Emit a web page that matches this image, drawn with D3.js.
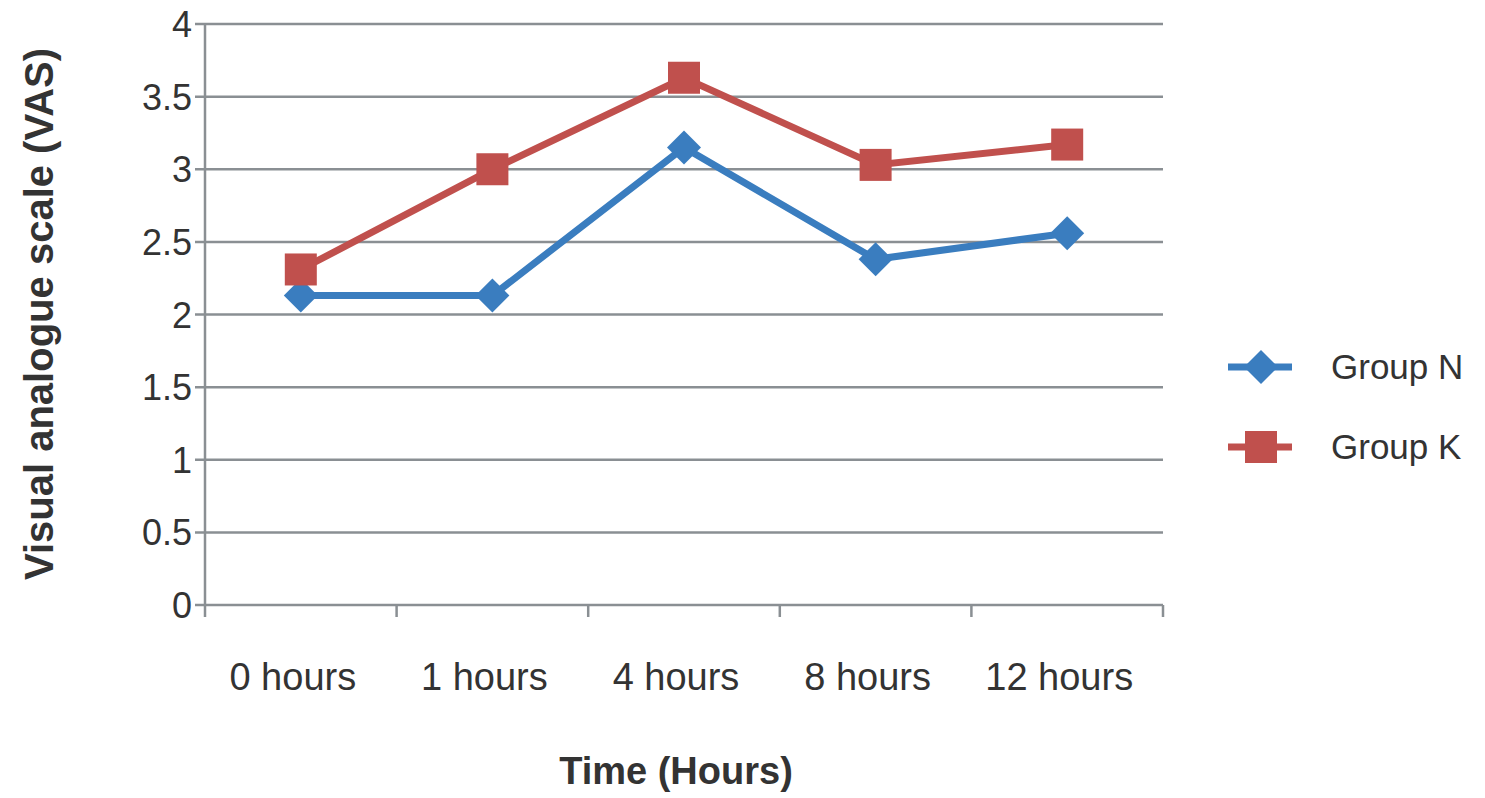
<!DOCTYPE html>
<html><head><meta charset="utf-8">
<script src="https://cdn.jsdelivr.net/npm/d3@7"></script>
<style>body{margin:0;background:#fff}text{font-family:"Liberation Sans",Arial,sans-serif}</style>
</head><body><svg id="c" width="1485" height="798"></svg>
<script>
const categories=["0 hours","1 hours","4 hours","8 hours","12 hours"];
const groupN=[2.13,2.13,3.15,2.38,2.56];
const groupK=[2.31,3.0,3.63,3.03,3.17];
const yTicks=[0,0.5,1,1.5,2,2.5,3,3.5,4];
const series=[{name:"Group N",values:groupN,color:"#3a7dbf",shape:"diamond"},{name:"Group K",values:groupK,color:"#c0504d",shape:"square"}];
const svg=d3.select("#c");
const L=205,R=1163,T=24,B=605;
const x=d3.scaleBand().domain(categories).range([L,R]);
const y=d3.scaleLinear().domain([0,4]).range([B,T]);
const grid="#8a8f93";
svg.append("g").selectAll("line").data(yTicks).join("line")
 .attr("x1",L-10).attr("x2",R).attr("y1",d=>y(d)).attr("y2",d=>y(d)).attr("stroke",grid).attr("stroke-width",2.5);
svg.append("line").attr("x1",L).attr("x2",L).attr("y1",T).attr("y2",B).attr("stroke",grid).attr("stroke-width",2.5);
const bounds=categories.map(c=>x(c)).concat([R]);
svg.append("g").selectAll("line").data(bounds).join("line")
 .attr("x1",d=>d).attr("x2",d=>d).attr("y1",B).attr("y2",B+12).attr("stroke",grid).attr("stroke-width",2.5);
svg.append("g").selectAll("text").data(yTicks).join("text")
 .attr("x",L-13).attr("y",d=>y(d)+13).attr("text-anchor","end").attr("font-size",36).attr("fill","#333").text(d=>d);
svg.append("g").selectAll("text").data(categories).join("text")
 .attr("x",d=>x(d)+x.bandwidth()/2-8).attr("y",690).attr("text-anchor","middle").attr("font-size",38).attr("fill","#333").text(d=>d);
svg.append("text").attr("x",676).attr("y",784).attr("text-anchor","middle").attr("font-size",38).attr("font-weight","bold").attr("fill","#333").text("Time (Hours)");
svg.append("text").attr("transform","translate(53,314) rotate(-90)").attr("text-anchor","middle").attr("font-size",40).attr("font-weight","bold").attr("fill","#333").text("Visual analogue scale (VAS)");
const line=d3.line().x((d,i)=>x(categories[i])+x.bandwidth()/2).y(d=>y(d));
function marker(g,shape,cx,cy,color){
 if(shape==="diamond") g.append("path").attr("d",`M${cx},${cy-17}L${cx+17},${cy}L${cx},${cy+17}L${cx-17},${cy}Z`).attr("fill",color);
 else g.append("rect").attr("x",cx-16).attr("y",cy-16).attr("width",32).attr("height",32).attr("fill",color);
}
series.forEach((s,k)=>{
 svg.append("path").attr("d",line(s.values)).attr("fill","none").attr("stroke",s.color).attr("stroke-width",7);
 const g=svg.append("g");
 s.values.forEach((v,i)=>marker(g,s.shape,x(categories[i])+x.bandwidth()/2,y(v),s.color));
 const ly=367+k*80;
 svg.append("line").attr("x1",1228).attr("x2",1292).attr("y1",ly).attr("y2",ly).attr("stroke",s.color).attr("stroke-width",7);
 marker(svg,s.shape,1261,ly,s.color);
 svg.append("text").attr("x",1331).attr("y",ly+12).attr("font-size",35).attr("fill","#333").text(s.name);
});
</script></body></html>
